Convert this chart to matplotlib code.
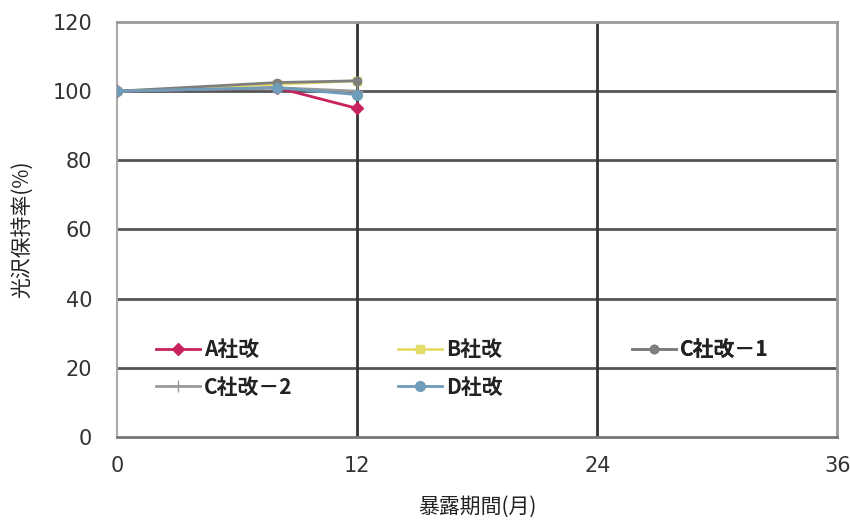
import matplotlib
matplotlib.use("Agg")
import matplotlib.pyplot as plt

plt.rcParams['font.family'] = ['Noto Sans CJK JP', 'DejaVu Sans']

months = [0, 8, 12]
series_names = ["A社改", "B社改", "C社改－1", "C社改－2", "D社改"]
a_vals = [100, 101, 95]
b_vals = [100, 102, 103]
c1_vals = [100, 102.5, 103]
c2_vals = [100, 101, 100]
d_vals = [100, 101, 99]
x_ticks = [0, 12, 24, 36]
y_ticks = [0, 20, 40, 60, 80, 100, 120]

fig = plt.figure(figsize=(8.5, 5.25), dpi=100)
ax = fig.add_axes([0.138, 0.168, 0.847, 0.79])

styles = [
    dict(color="#C8235E", marker="D", markersize=6),
    dict(color="#E3DC6A", marker="s", markersize=6),
    dict(color="#7E7E7E", marker="o", markersize=6),
    dict(color="#9A9A9A", marker="+", markersize=8),
    dict(color="#6F9CB8", marker="o", markersize=7),
]
lines = []
for name, vals, st in zip(series_names, [a_vals, b_vals, c1_vals, c2_vals, d_vals], styles):
    ln, = ax.plot(months, vals, label=name, linewidth=2, zorder=3, **st)
    lines.append(ln)

ax.set_xlim(0, 36)
ax.set_ylim(0, 120)
ax.set_xticks(x_ticks)
ax.set_yticks(y_ticks)
for yv in y_ticks[1:-1]:
    ax.axhline(yv, color="#555555", linewidth=2, zorder=1)
for xv in x_ticks[1:-1]:
    ax.axvline(xv, color="#333333", linewidth=2, zorder=1)

for side in ["top", "right"]:
    ax.spines[side].set_color("#999999")
    ax.spines[side].set_linewidth(2)
ax.spines["left"].set_color("#aaaaaa")
ax.spines["bottom"].set_color("#777777")
ax.spines["left"].set_linewidth(1.5)
ax.spines["bottom"].set_linewidth(2)
ax.tick_params(length=0, labelsize=15, colors="#333333", pad=14)
ax.tick_params(axis="y", pad=18)
for lbl in ax.get_xticklabels() + ax.get_yticklabels():
    lbl.set_family(['Liberation Sans Narrow', 'DejaVu Sans'])

ax.set_xlabel("暴露期間(月)", fontsize=15, color="#222222", labelpad=14)
ax.set_ylabel("光沢保持率(%)", fontsize=15, color="#222222", labelpad=14)

columns = [[0, 3], [1, 4], [2]]
col_x = [0.054, 0.39, 0.715]
for cx, idxs in zip(col_x, columns):
    leg = ax.legend([lines[i] for i in idxs], [series_names[i] for i in idxs],
                    loc="upper left", bbox_to_anchor=(cx, 0.235), frameon=False,
                    prop={'weight': 'bold', 'size': 15}, handlelength=2.1,
                    handletextpad=0.2, labelspacing=0.78, borderaxespad=0, borderpad=0)
    for t in leg.get_texts():
        t.set_color("#222222")
    ax.add_artist(leg)

fig.savefig("out.png", dpi=100)
